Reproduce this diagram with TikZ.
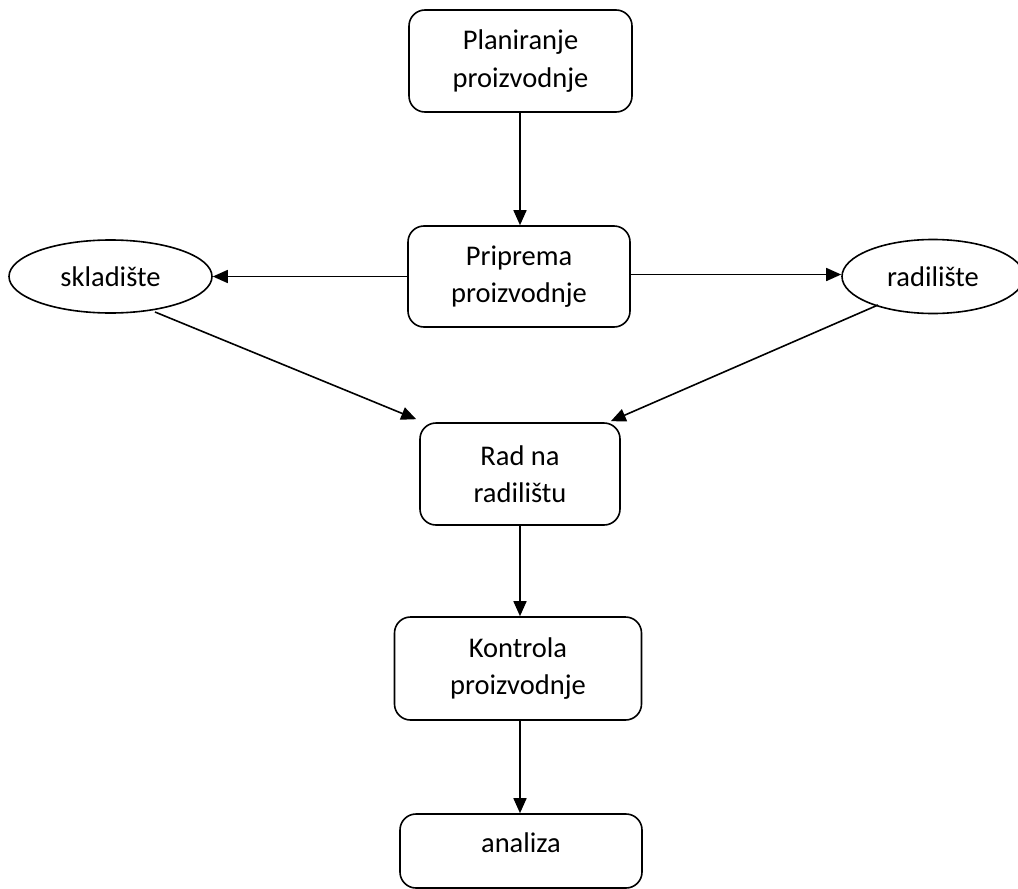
\documentclass[tikz,border=0pt]{standalone}
\usepackage{fontspec}
\setmainfont{Carlito}
\usetikzlibrary{shapes.geometric,arrows.meta,calc}
\begin{document}
\begin{tikzpicture}[x=1pt,y=-1pt,
  box/.style={draw,line width=1.6pt,rounded corners=16pt,align=center,inner sep=0pt,font=\fontsize{28.5}{37.5}\selectfont},
  oval/.style={draw,ellipse,line width=1.6pt,inner sep=0pt,font=\fontsize{28.5}{37.5}\selectfont},
  arr/.style={line width=1.6pt,-{Triangle[length=15pt,width=13pt]}}]
\useasboundingbox (0,0) rectangle (1018,889);
\node[box,minimum width=223pt,minimum height=102pt] (plan) at (520.5,61) {\raisebox{-3pt}{Planiranje}\\\raisebox{-3pt}{proizvodnje}};
\node[box,minimum width=222pt,minimum height=101pt] (prip) at (519,276.5) {Priprema\\proizvodnje};
\node[oval,minimum width=203pt,minimum height=73pt] (skl) at (110.5,276.5) {skladište};
\node[oval,minimum width=182pt,minimum height=74pt] (rdl) at (933,276.5) {radilište};
\node[box,minimum width=200pt,minimum height=102pt] (rad) at (520,474) {Rad na\\radilištu};
\node[box,minimum width=247pt,minimum height=103pt] (kon) at (518,668.5) {\raisebox{-3pt}{Kontrola}\\\raisebox{-2pt}{proizvodnje}};
\node[box,minimum width=242pt,minimum height=74pt,text depth=16pt] (ana) at (521,851) {analiza};
\coordinate (radL) at ($(rad.north west)+(-3,-3)$);
\coordinate (radR) at ($(rad.north east)+(-10,-1)$);
\coordinate (sklS) at (155,312);
\coordinate (rdlS) at (878,305);
\draw[arr] (plan.south -| rad.north) -- (rad.north |- prip.north);
\draw[arr] (prip.west) -- (skl.east);
\draw[arr] ($(prip.east)+(0,-2)$) -- ($(rdl.west)+(0,-2)$);
\draw[arr] (sklS) -- (radL);
\draw[arr] (rdlS) -- (radR);
\draw[arr] (rad.south) -- (rad.south |- kon.north);
\draw[arr] (rad.south |- kon.south) -- (rad.south |- ana.north);
\end{tikzpicture}
\end{document}
